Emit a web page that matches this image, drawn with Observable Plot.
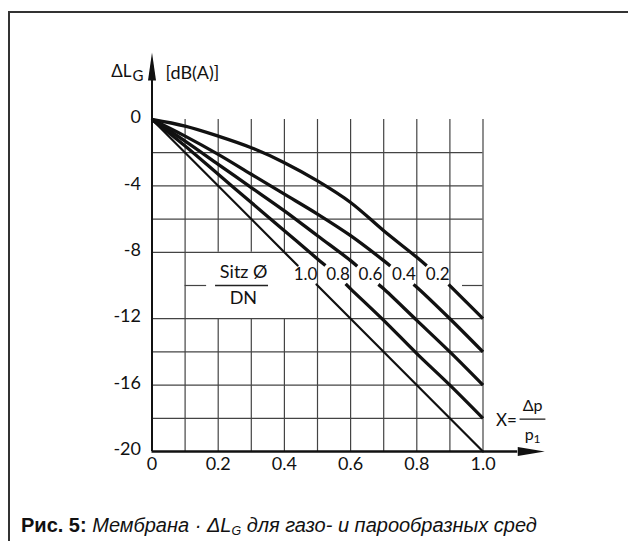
<!DOCTYPE html>
<html><head><meta charset="utf-8">
<script src="https://cdn.jsdelivr.net/npm/d3@7"></script>
<script src="https://cdn.jsdelivr.net/npm/@observablehq/plot@0.6"></script>
<style>
html,body{margin:0;padding:0;background:#fff;}
#wrap{position:relative;width:628px;height:541px;overflow:hidden;background:#fff;}
#chart{position:absolute;left:0;top:0;}
#frame{position:absolute;left:8px;top:11px;width:700px;height:600px;border-top:2px solid #333;border-left:2px solid #333;pointer-events:none;}
#caption{position:absolute;left:21px;top:515px;font-family:"Liberation Sans",Arial,sans-serif;font-size:20px;line-height:20px;color:#111;white-space:nowrap;}
#caption sub{font-size:0.62em;vertical-align:-0.25em;line-height:0;}
</style></head>
<body><div id="wrap"><div id="chart"></div><div id="frame"></div>
<div id="caption"><b>Рис. 5:</b> <i>Мембрана · ΔL<sub>G</sub> для газо- и парообразных сред</i></div></div>
<script>
// Seat diameter / DN ratios (curve labels)
const ratioLabels = ["1.0", "0.8", "0.6", "0.4", "0.2"];
// curve readings (null = gap where the label sits)
const c10x = [0, 0.44, null, 0.497, 1.0];
const c10y = [0, -8.8, null, -9.94, -20];
const c08x = [0, 0.1, 0.2, 0.3, 0.4, 0.5, 0.524, null, 0.585, 0.6, 0.7, 0.8, 0.9, 1.0];
const c08y = [0, -1.6, -3.3, -5.0, -6.7, -8.4, -8.8, null, -9.9, -10.2, -12.1, -14.1, -16.0, -18];
const c06x = [0, 0.1, 0.2, 0.3, 0.4, 0.5, 0.6, 0.62, null, 0.684, 0.7, 0.8, 0.9, 1.0];
const c06y = [0, -1.3, -2.7, -4.1, -5.5, -7.0, -8.5, -8.84, null, -9.93, -10.2, -12.1, -14.0, -16];
const c04x = [0, 0.1, 0.2, 0.3, 0.4, 0.5, 0.6, 0.7, 0.72, null, 0.79, 0.8, 0.9, 1.0];
const c04y = [0, -1.0, -2.1, -3.3, -4.5, -5.7, -7.0, -8.5, -8.82, null, -9.94, -10.1, -12.0, -14];
const c02x = [0, 0.1, 0.2, 0.3, 0.4, 0.5, 0.6, 0.7, 0.8, 0.83, null, 0.896, 1.0];
const c02y = [0, -0.4, -1.0, -1.7, -2.6, -3.7, -5.0, -6.7, -8.3, -8.81, null, -9.93, -12];
// label positions
const labelX = [0.464, 0.562, 0.66, 0.761, 0.863];
const labelY = -9.33;
// ticks
const ticksX = [0, 0.2, 0.4, 0.6, 0.8, 1.0];
const ticksY = [0, -4, -8, -12, -16, -20];
// grid
const gridCols = [0.1, 0.2, 0.3, 0.4, 0.5, 0.6, 0.7, 0.8, 0.9, 1.0];
const gapCols = [0.2, 0.3, 0.4];
const gapBand = [-8, -12];
const gridRows = [-2, -4, -6, -8, -12, -14, -16, -18];
const row10Stubs = [[0.1, 0.165], [0.938, 1.0]];

function rows(label, xs, ys) {
  return xs.map((x, i) => ({ratio: label, x: x === null ? NaN : x, y: ys[i] === null ? NaN : ys[i]}));
}
const thin = rows("1.0", c10x, c10y);
const thick = [].concat(rows("0.8", c08x, c08y), rows("0.6", c06x, c06y),
                        rows("0.4", c04x, c04y), rows("0.2", c02x, c02y));

const vSegs = [];
gridCols.forEach(x => {
  if (gapCols.includes(x)) {
    vSegs.push({x, y1: 0, y2: gapBand[0]});
    vSegs.push({x, y1: gapBand[1], y2: -20});
  } else vSegs.push({x, y1: 0, y2: -20});
});
const hSegs = gridRows.map(y => ({y, x1: 0, x2: 1}))
  .concat(row10Stubs.map(s => ({y: -10, x1: s[0], x2: s[1]})));

const gridStroke = "#444";
const chart = Plot.plot({
  width: 628, height: 541,
  marginLeft: 151.5, marginRight: 145.5, marginTop: 119, marginBottom: 90,
  x: {domain: [0, 1]},
  y: {domain: [-20, 0]},
  style: {background: "transparent", fontFamily: "Lato, sans-serif", overflow: "visible"},
  marks: [
    Plot.ruleX(vSegs, {x: "x", y1: "y1", y2: "y2", stroke: gridStroke, strokeWidth: 1.2}),
    Plot.ruleY(hSegs, {y: "y", x1: "x1", x2: "x2", stroke: gridStroke, strokeWidth: 1.2}),
    // fraction bar of "Sitz Ø / DN"
    Plot.ruleY([-10], {x1: 0.192, x2: 0.352, stroke: "#222", strokeWidth: 1.3}),
    Plot.text(["Sitz Ø"], {x: 0.277, y: -9.19, text: d => d, fontSize: 18, fill: "#111"}),
    Plot.text(["DN"], {x: 0.276, y: -10.75, text: d => d, fontSize: 18, fill: "#111"}),
    // axes lines and arrows
    Plot.ruleX([0], {y1: -20, y2: 2.35, stroke: "#111", strokeWidth: 2}),
    Plot.ruleY([-20], {x1: 0, x2: 1.105, stroke: "#111", strokeWidth: 2.4}),
    Plot.vector([0], {x: 0, y: 2.35, length: 28, rotate: 0, r: 4, shape: "spike", anchor: "start", fill: "#111", stroke: "none"}),
    Plot.vector([0], {x: 1.105, y: -20, length: 27, rotate: 90, r: 4.5, shape: "spike", anchor: "start", fill: "#111", stroke: "none"}),
    // curves
    Plot.line(thin, {x: "x", y: "y", z: "ratio", stroke: "#111", strokeWidth: 2.2}),
    Plot.line(thick, {x: "x", y: "y", z: "ratio", stroke: "#111", strokeWidth: 3.3, curve: "catmull-rom", strokeLinecap: "butt"}),
    Plot.text(ratioLabels, {x: (d, i) => labelX[i], y: labelY, text: d => d, fontSize: 17, fill: "#111"}),
    // axis tick labels
    Plot.axisY({ticks: ticksY, tickSize: 0, tickPadding: 11, fontSize: 18, tickFormat: d => String(d), label: null, dy: -2, fill: "#111"}),
    Plot.axisX({ticks: ticksX, tickSize: 0, tickPadding: 6, fontSize: 18, tickFormat: d => d === 0 ? "0" : d.toFixed(1), label: null, fill: "#111"}),
    // y title
    Plot.text(["ΔL"], {x: -0.062, y: 2.86, text: d => d, textAnchor: "end", fontSize: 17, fill: "#111"}),
    Plot.text(["G"], {x: -0.059, y: 2.62, text: d => d, textAnchor: "start", fontSize: 15, fill: "#111"}),
    Plot.text(["[dB(A)]"], {x: 0.041, y: 2.8, text: d => d, textAnchor: "start", fontSize: 18, fill: "#111"}),
    // x title: X = Δp / p1
    Plot.text(["X="], {x: 1.071, y: -18.15, text: d => d, fontSize: 17, fill: "#111"}),
    Plot.ruleY([-18.05], {x1: 1.112, x2: 1.19, stroke: "#111", strokeWidth: 1.2}),
    Plot.text(["Δp"], {x: 1.15, y: -17.25, text: d => d, fontSize: 16, fill: "#111"}),
    Plot.text(["p"], {x: 1.14, y: -19.0, text: d => d, fontSize: 16, fill: "#111"}),
    Plot.text(["1"], {x: 1.163, y: -19.25, text: d => d, fontSize: 12, fill: "#111"})
  ]
});
document.getElementById("chart").appendChild(chart);
</script>
</body></html>
